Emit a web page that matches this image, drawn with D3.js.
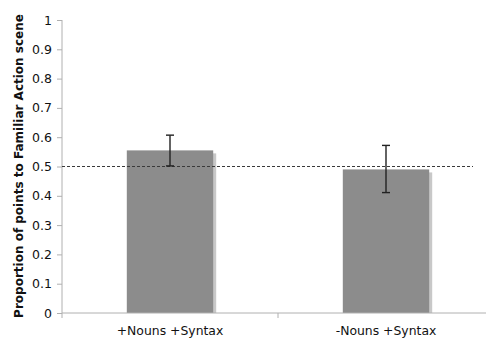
<!DOCTYPE html>
<html>
<head>
<meta charset="utf-8">
<script src="https://cdn.jsdelivr.net/npm/d3@7"></script>
<style>
  body { margin: 0; background: #fff; }
  text { font-family: "DejaVu Sans", Verdana, sans-serif; }
</style>
</head>
<body>
<div class="chart"></div>
<script>
const categories = ["+Nouns +Syntax", "-Nouns +Syntax"];
const means = [0.555, 0.49];
const upper = [0.607, 0.572];
const lower = [0.502, 0.411];
const yTicks = [0, 0.1, 0.2, 0.3, 0.4, 0.5, 0.6, 0.7, 0.8, 0.9, 1];
const chance = 0.5;

const data = categories.map((c, i) => ({cat: c, mean: means[i], hi: upper[i], lo: lower[i]}));

const margin = {top: 20, left: 62, right: -8, bottom: 26};
const width = 486 - margin.left - margin.right,
    height = 339 - margin.top - margin.bottom;

const svg = d3.select('.chart').append('svg')
    .attr("width", 486)
    .attr("height", 339)
    .append("g")
    .attr("transform", "translate(" + margin.left + "," + margin.top + ")");

const xScale = d3.scaleBand()
    .domain(categories)
    .range([0, width])
    .padding(0);

const yScale = d3.scaleLinear()
    .domain([0, 1])
    .range([height, 0]);

const barW = xScale.bandwidth() * 0.4;

// bar shadows
svg.selectAll("rect.shadow")
    .data(data)
    .enter()
    .append("rect")
    .attr("class", "shadow")
    .attr("x", d => xScale(d.cat) + xScale.bandwidth() / 2 - barW / 2 + 3)
    .attr("y", d => yScale(d.mean) + 3)
    .attr("width", barW)
    .attr("height", d => height - yScale(d.mean) - 3)
    .attr("fill", "#c8c8c8");

svg.selectAll("rect.bar")
    .data(data)
    .enter()
    .append("rect")
    .attr("class", "bar")
    .attr("x", d => xScale(d.cat) + xScale.bandwidth() / 2 - barW / 2)
    .attr("y", d => yScale(d.mean))
    .attr("width", barW)
    .attr("height", d => height - yScale(d.mean))
    .attr("fill", "#8c8c8c");

// axes
const yAxis = d3.axisLeft(yScale)
    .tickValues(yTicks)
    .tickFormat(d3.format("")) 
    .tickSize(5)
    .tickPadding(5);

const yg = svg.append("g")
    .attr("class", "axis y-axis")
    .call(yAxis);
yg.select(".domain").attr("stroke", "#b0b0b0").attr("d", `M0,0V${height}`);
yg.selectAll(".tick line").attr("stroke", "#b0b0b0");
yg.selectAll(".tick text").attr("font-size", 12.5).attr("fill", "#111");

const xg = svg.append("g")
    .attr("transform", `translate(0, ${height})`);
xg.append("line")
    .attr("x1", 0).attr("x2", width)
    .attr("stroke", "#b0b0b0");
xg.selectAll("line.tk")
    .data([0, ...categories.map(c => xScale(c) + xScale.bandwidth())])
    .enter()
    .append("line")
    .attr("class", "tk")
    .attr("x1", d => d).attr("x2", d => d)
    .attr("y1", 0).attr("y2", 5)
    .attr("stroke", "#b0b0b0");
xg.selectAll("text")
    .data(categories)
    .enter()
    .append("text")
    .attr("x", d => xScale(d) + xScale.bandwidth() / 2)
    .attr("y", 22)
    .attr("text-anchor", "middle")
    .attr("font-size", 12.4)
    .attr("fill", "#111")
    .text(d => d);

// chance line
svg.append("line")
    .attr("x1", 0)
    .attr("x2", 411)
    .attr("y1", yScale(chance))
    .attr("y2", yScale(chance))
    .attr("stroke", "#3a3a3a")
    .attr("stroke-width", 1)
    .attr("stroke-dasharray", "3,2");

// error bars
const eb = svg.selectAll("g.err")
    .data(data)
    .enter()
    .append("g")
    .attr("class", "err")
    .attr("stroke", "#222")
    .attr("stroke-width", 1.4);
eb.append("line")
    .attr("x1", d => xScale(d.cat) + xScale.bandwidth() / 2)
    .attr("x2", d => xScale(d.cat) + xScale.bandwidth() / 2)
    .attr("y1", d => yScale(d.hi))
    .attr("y2", d => yScale(d.lo));
eb.selectAll("line.cap")
    .data(d => [d.hi, d.lo].map(v => ({cx: xScale(d.cat) + xScale.bandwidth() / 2, v: v})))
    .enter()
    .append("line")
    .attr("class", "cap")
    .attr("x1", d => d.cx - 4)
    .attr("x2", d => d.cx + 4)
    .attr("y1", d => yScale(d.v))
    .attr("y2", d => yScale(d.v));

// y title
svg.append("text")
    .attr("transform", `translate(${19 - margin.left}, ${166 - margin.top}) rotate(-90)`)
    .attr("text-anchor", "middle")
    .attr("dy", "0.35em")
    .attr("font-size", 12)
    .attr("font-weight", "bold")
    .attr("fill", "#111")
    .text("Proportion of points to Familiar Action scene");
</script>
</body>
</html>
